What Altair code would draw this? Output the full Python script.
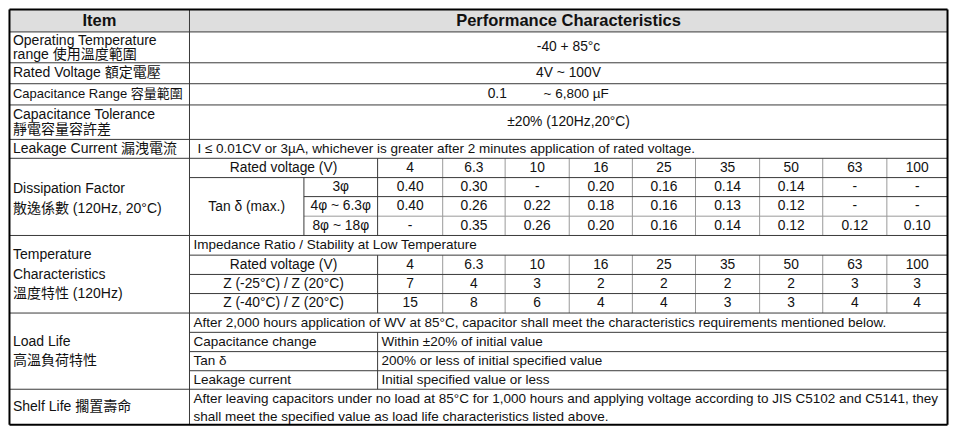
import altair as alt
import pandas as pd

# ---------------- table content ----------------
header_item = "Item"
header_perf = "Performance Characteristics"

voltages = ["4", "6.3", "10", "16", "25", "35", "50", "63", "100"]
tan_3 = ["0.40", "0.30", "-", "0.20", "0.16", "0.14", "0.14", "-", "-"]
tan_4 = ["0.40", "0.26", "0.22", "0.18", "0.16", "0.13", "0.12", "-", "-"]
tan_8 = ["-", "0.35", "0.26", "0.20", "0.16", "0.14", "0.12", "0.12", "0.10"]
z_25 = ["7", "4", "3", "2", "2", "2", "2", "3", "3"]
z_40 = ["15", "8", "6", "4", "4", "3", "3", "4", "4"]
size_classes = ["3\u03c6", "4\u03c6 ~ 6.3\u03c6", "8\u03c6 ~ 18\u03c6"]

item_labels = [
    ["Operating Temperature", "range \u4f7f\u7528\u6eab\u5ea6\u7bc4\u570d"],
    ["Rated Voltage \u984d\u5b9a\u96fb\u58d3"],
    ["Capacitance Range \u5bb9\u91cf\u7bc4\u570d"],
    ["Capacitance Tolerance", "\u975c\u96fb\u5bb9\u91cf\u5bb9\u8a31\u5dee"],
    ["Leakage Current \u6f0f\u6d29\u96fb\u6d41"],
    ["Dissipation Factor", "\u6563\u9038\u4fc2\u6578  (120Hz, 20\u00b0C)"],
    ["Temperature", "Characteristics", "\u6eab\u5ea6\u7279\u6027  (120Hz)"],
    ["Load Life", "\u9ad8\u6eab\u8ca0\u8377\u7279\u6027"],
    ["Shelf Life \u64f1\u7f6e\u58fd\u547d"],
]

op_temp = "-40 + 85\u00b0c"
rated_v = "4V ~ 100V"
cap_lo = "0.1"
cap_hi = "~ 6,800 \u00b5F"
cap_tol = "\u00b120% (120Hz,20\u00b0C)"
leakage = "I \u2264 0.01CV or 3\u00b5A, whichever is greater after 2 minutes application of rated voltage."
rated_lbl = "Rated voltage (V)"
tan_lbl = "Tan \u03b4 (max.)"
imp_lbl = "Impedance Ratio / Stability at Low Temperature"
z_lbls = ["Z (-25\u00b0C) / Z (20\u00b0C)", "Z (-40\u00b0C) / Z (20\u00b0C)"]
load_intro = "After 2,000 hours application of WV at 85\u00b0C, capacitor shall meet the characteristics requirements mentioned below."
load_keys = ["Capacitance change", "Tan \u03b4", "Leakage current"]
load_vals = ["Within \u00b120% of initial value", "200% or less of initial specified value", "Initial specified value or less"]
shelf_lines = [
    "After leaving capacitors under no load at 85\u00b0C for 1,000 hours and applying voltage according to JIS C5102 and C5141, they",
    "shall meet the specified value as load life characteristics listed above.",
]

# ---------------- layout (grid geometry in table units) ----------------
X0, X_ITEM, X_TAN, X_SUB, X1 = 2.5, 185, 301, 375.7, 953.5
col_edges = [375.7, 441.7, 505, 570, 634, 698, 763, 827, 892, 953.5]
Y0, Y1 = 2, 432.5
rows = dict(head=25.3, op=57.3, rv=79, cr=101, ct=136.7, lk=156.3,
            df1=176.3, df2=196, df3=216.3, df=236.3,
            tc1=256.7, tc2=276.7, tc3=296.5, tc=316.7,
            ll1=336.7, ll2=356.7, ll3=376.5, ll=395.7)

def mid(a, b):
    return (a + b) / 2

col_centers = [mid(col_edges[i], col_edges[i + 1]) for i in range(9)]

# ---------------- build text table ----------------
texts = []  # x, y, text, kind
def add(x, y, t, kind):
    texts.append(dict(x=x, y=y, t=t, kind=kind))

PADL = 6
PADR = 189
add(mid(X0, X_ITEM), mid(Y0, rows["head"]) + 0.5, header_item, "h")
add(mid(X_ITEM, X1), mid(Y0, rows["head"]) + 0.5, header_perf, "h")

item_y = [
    [34.5, 49.5], [mid(rows["op"], rows["rv"])], [mid(rows["rv"], rows["cr"])],
    [111, 127], [mid(rows["ct"], rows["lk"])], [188, 209],
    [257, 277, 297], [346.5, 366.5], [mid(rows["ll"], Y1)],
]
for idx, (labels, ys) in enumerate(zip(item_labels, item_y)):
    for lab, yy in zip(labels, ys):
        add(PADL, yy, lab, "i2" if idx == 2 else "i")

RC = mid(X_ITEM, X1)
add(RC, mid(rows["head"], rows["op"]), op_temp, "c")
add(RC, mid(rows["op"], rows["rv"]), rated_v, "c")
add(497, mid(rows["rv"], rows["cr"]), cap_lo, "c")
add(544, mid(rows["rv"], rows["cr"]), cap_hi, "l")
add(RC, mid(rows["cr"], rows["ct"]), cap_tol, "c")
add(193, mid(rows["ct"], rows["lk"]), leakage, "l")

# dissipation factor block
add(mid(X_ITEM, X_SUB), mid(rows["lk"], rows["df1"]), rated_lbl, "c")
add(mid(X_ITEM, X_TAN), 207, tan_lbl, "c")
sub_rows = [(rows["df1"], rows["df2"]), (rows["df2"], rows["df3"]), (rows["df3"], rows["df"])]
for lab, (a, b) in zip(size_classes, sub_rows):
    add(mid(X_TAN, X_SUB), mid(a, b), lab, "c")
for i, cx in enumerate(col_centers):
    add(cx, mid(rows["lk"], rows["df1"]), voltages[i], "c")
    for series, (a, b) in zip([tan_3, tan_4, tan_8], sub_rows):
        add(cx, mid(a, b), series[i], "c")

# temperature block
add(PADR, mid(rows["df"], rows["tc1"]), imp_lbl, "l")
add(mid(X_ITEM, X_SUB), mid(rows["tc1"], rows["tc2"]), rated_lbl, "c")
add(mid(X_ITEM, X_SUB), mid(rows["tc2"], rows["tc3"]), z_lbls[0], "c")
add(mid(X_ITEM, X_SUB), mid(rows["tc3"], rows["tc"]), z_lbls[1], "c")
for i, cx in enumerate(col_centers):
    add(cx, mid(rows["tc1"], rows["tc2"]), voltages[i], "c")
    add(cx, mid(rows["tc2"], rows["tc3"]), z_25[i], "c")
    add(cx, mid(rows["tc3"], rows["tc"]), z_40[i], "c")

# load life block
add(PADR, mid(rows["tc"], rows["ll1"]), load_intro, "l")
ll_rows = [(rows["ll1"], rows["ll2"]), (rows["ll2"], rows["ll3"]), (rows["ll3"], rows["ll"])]
for k, v, (a, b) in zip(load_keys, load_vals, ll_rows):
    add(PADR, mid(a, b), k, "l")
    add(X_SUB + 4, mid(a, b), v, "l")

# shelf life
add(PADR, 405.5, shelf_lines[0], "l")
add(PADR, 424.5, shelf_lines[1], "l")

tdf = pd.DataFrame(texts)

# ---------------- build rules ----------------
rules = []  # x, x2, y, y2, kind
def hline(y, xa, xb, kind="d"):
    rules.append(dict(x=xa, x2=xb, y=y, y2=y, kind=kind))
def vline(x, ya, yb, kind="d"):
    rules.append(dict(x=x, x2=x, y=ya, y2=yb, kind=kind))

for key in ["head", "op", "rv", "cr", "ct", "lk", "df", "tc", "ll"]:
    hline(rows[key], X0, X1)
for key in ["df1", "tc1", "tc2", "tc3", "ll1", "ll2", "ll3"]:
    hline(rows[key], X_ITEM, X1)
hline(rows["df2"], X_TAN, X1)
hline(rows["df3"], X_TAN, X1, "g")
vline(X_ITEM, Y0, Y1)
vline(X_TAN, rows["df1"], rows["df"])
vline(X_SUB, rows["lk"], rows["df"])
vline(X_SUB, rows["tc1"], rows["tc"])
vline(X_SUB, rows["ll1"], rows["ll"])
for x in col_edges[1:-1]:
    vline(x, rows["lk"], rows["df"], "g")
    vline(x, rows["tc1"], rows["tc"], "g")
# outer border
hline(Y0, X0, X1, "b")
hline(Y1, X0, X1, "b")
vline(X0, Y0, Y1, "b")
vline(X1, Y0, Y1, "b")

rdf = pd.DataFrame(rules)

# ---------------- chart ----------------
W, H = 941, 418
xs = alt.Scale(domain=[1.0, 955.0], nice=False, zero=False)
ys = alt.Scale(domain=[0.5, 433.8], nice=False, zero=False, reverse=True)
FONT = "Liberation Sans, Arial, Noto Sans CJK TC"

def X(f="x"):
    return alt.X(f + ":Q", scale=xs, axis=None)
def Y(f="y"):
    return alt.Y(f + ":Q", scale=ys, axis=None)

header_bg = alt.Chart(pd.DataFrame([dict(x=X0, x2=X1, y=Y0, y2=rows["head"])])).mark_rect(
    color="#dedede").encode(x=X(), x2="x2:Q", y=Y(), y2="y2:Q")

def rule_layer(kind, color, width):
    return alt.Chart(rdf[rdf.kind == kind]).mark_rule(color=color, strokeWidth=width).encode(
        x=X(), x2="x2:Q", y=Y(), y2="y2:Q")

def text_layer(kind, align, size, weight="normal"):
    return alt.Chart(tdf[tdf.kind == kind]).mark_text(
        align=align, baseline="middle", font=FONT, fontSize=size, fontWeight=weight, color="#111"
    ).encode(x=X(), y=Y(), text="t:N")

chart = alt.layer(
    header_bg,
    rule_layer("g", "#9a9a9a", 1),
    rule_layer("d", "#3a3a3a", 1),
    rule_layer("b", "#000000", 2),
    text_layer("i", "left", 14),
    text_layer("i2", "left", 13),
    text_layer("l", "left", 13.5),
    text_layer("c", "center", 13.8),
    text_layer("h", "center", 16.5, "bold"),
).properties(width=W, height=H, padding=0, autosize=alt.AutoSizeParams(type="none")
).configure_view(stroke=None)

chart.save("out.html", embed_options={"renderer": "svg", "actions": False})
